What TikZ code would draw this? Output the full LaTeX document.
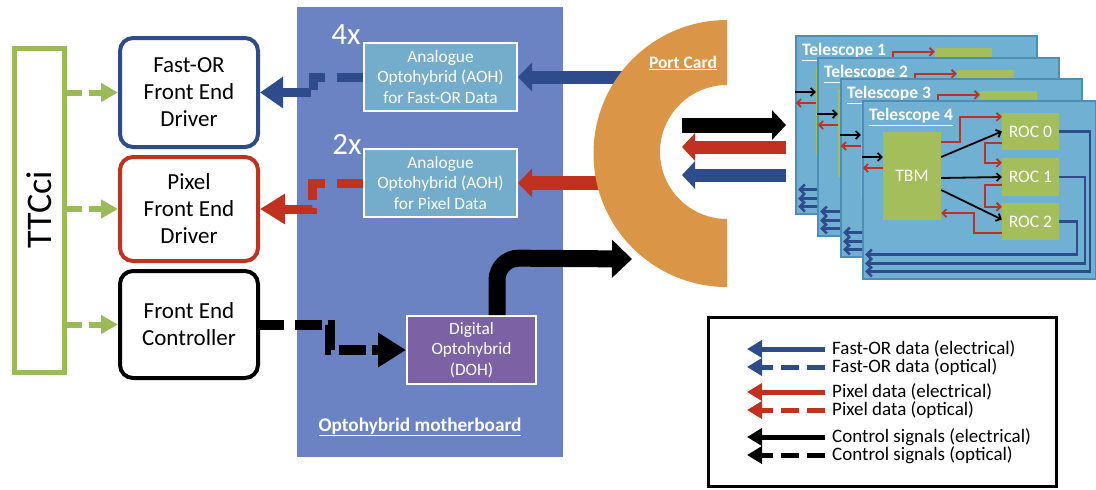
\documentclass[tikz,border=0pt]{standalone}
\usepackage{fontspec}
\setmainfont{Carlito}
\usetikzlibrary{arrows.meta,calc}
\definecolor{tgreen}{HTML}{9BBB59}
\definecolor{dblue}{HTML}{2E4B8C}
\definecolor{dred}{HTML}{C0311F}
\definecolor{mboard}{HTML}{6B83C3}
\definecolor{aohc}{HTML}{73ADCB}
\definecolor{dohc}{HTML}{7D61A5}
\definecolor{portc}{HTML}{DA9546}
\definecolor{telc}{HTML}{70B0D2}
\definecolor{telb}{HTML}{4E8DB5}
\definecolor{rocg}{HTML}{A4BE5C}
\tikzset{
  fedbox/.style={rounded corners=13pt, line width=4pt, fill=white, minimum width=138pt, align=center, font=\fontsize{23}{27}\selectfont, inner sep=0},
  garrow/.style={draw=tgreen, line width=6pt, dash pattern=on 15pt off 7pt, -{Triangle[length=17pt,width=18pt]}},
  ohbox/.style={draw=white, line width=2pt, text=white, align=center, inner sep=0, font=\fontsize{17.3}{20.5}\selectfont},
  wlabel/.style={text=white, inner sep=0, font=\bfseries\fontsize{17.5}{19}\selectfont},
  panel/.style={fill=telc, draw=telb, line width=1.5pt, minimum height=178pt, inner sep=0, anchor=north west},
  chip/.style={fill=rocg, inner sep=0, text=white, font=\fontsize{17.6}{20}\selectfont},
  tred/.style={draw=dred, line width=1.8pt, -{Straight Barb[length=4pt,width=8pt]}},
  tblk/.style={draw=black, line width=1.8pt, -{Straight Barb[length=4pt,width=8pt]}},
  tblu/.style={draw=dblue, line width=2.5pt, -{Straight Barb[length=5pt,width=10pt]}},
  legtext/.style={anchor=west, inner sep=0, font=\fontsize{19}{20}\selectfont},
  legarrow/.style={line width=5pt, -{Triangle[length=15pt,width=17pt]}},
  legdash/.style={line width=5pt, dash pattern=on 18pt off 8pt, -{Triangle[length=15pt,width=17pt]}}
}
\newcommand{\telpanel}[4]{%
\begin{scope}[shift={(#1,#2)}]
\node[panel, minimum width=#4pt] (P#3) at (862,100) {};
\node[wlabel, anchor=west] (L#3) at (869,117) {\underline{Telescope #3}};
\node[chip, minimum width=58pt, minimum height=88pt] (T#3) at (912,176) {\ifnum#3=4 TBM\fi};
\node[chip, minimum width=57pt, minimum height=37pt] (roA#3) at (1030.5,131.5) {\ifnum#3=4 ROC 0\fi};
\node[chip, minimum width=57pt, minimum height=38pt] (roB#3) at (1030.5,177) {\ifnum#3=4 ROC 1\fi};
\node[chip, minimum width=57pt, minimum height=37pt] (roC#3) at (1030.5,221.5) {\ifnum#3=4 ROC 2\fi};
\draw[tred] ([yshift=-10pt]T#3.north east) -- ++(19,0) |- ([yshift=-4pt]roA#3.north west);
\draw[tred] ([yshift=7pt]roA#3.south west) -- ++(-17,0) |- ([yshift=-5pt]roB#3.north west);
\draw[tred] ([yshift=11pt]roB#3.south west) -- ++(-17,0) |- ([yshift=-4pt]roC#3.north west);
\draw[tred] ([yshift=7pt]roC#3.south west) -- ++(-28,0) |- ([yshift=7pt]T#3.south east);
\draw[tblk] ([yshift=19pt]T#3.east) -- (roA#3.west);
\draw[tblk] ([yshift=-2pt]T#3.east) -- (roB#3.west);
\draw[tblk] ([yshift=-14pt]T#3.east) -- ([yshift=2pt]roC#3.west);
\draw[tblk] ([xshift=-21pt,yshift=19pt]T#3.west) -- ([yshift=19pt]T#3.west);
\draw[tred] ([yshift=8pt]T#3.west) -- ([xshift=-20pt,yshift=8pt]T#3.west);
\draw[tblu] (roA#3.east) -- ++(31,0) |- ([xshift=3pt,yshift=8pt]P#3.south west);
\draw[tblu] (roB#3.east) -- ++(26,0) |- ([xshift=3pt,yshift=16pt]P#3.south west);
\draw[tblu] (roC#3.east) -- ++(18,0) |- ([xshift=3pt,yshift=25pt]P#3.south west);
\end{scope}}
\begin{document}
\begin{tikzpicture}[x=1pt,y=-1pt]
\useasboundingbox (0,0) rectangle (1096,490);
\fill[white] (0,0) rectangle (1096,490);
% TTCci
\node[draw=tgreen, line width=5pt, minimum width=50pt, minimum height=324pt, inner sep=0] (ttc) at (39,210) {\rotatebox{90}{\fontsize{36}{40}\selectfont TTCci}};
% FEDs
\node[fedbox, draw=dblue, minimum height=109pt] (fofed) at (189,92.5) {Fast-OR\\Front End\\Driver};
\node[fedbox, draw=dred, minimum height=104pt] (pxfed) at (189,209) {Pixel\\Front End\\Driver};
\node[fedbox, draw=black, minimum height=107pt] (fec) at (189,324.5) {Front End\\Controller};
\draw[garrow] (ttc.east |- fofed.west) -- (fofed.west);
\draw[garrow] (ttc.east |- pxfed.west) -- (pxfed.west);
\draw[garrow] (ttc.east |- fec.west) -- (fec.west);
% motherboard
\node[fill=mboard, minimum width=266pt, minimum height=450pt, inner sep=0] (mb) at (430,232) {};
\node[ohbox, fill=aohc, minimum width=153pt, minimum height=68pt] (aoh1) at (440.5,77) {Analogue\\Optohybrid (AOH)\\for Fast-OR Data};
\node[ohbox, fill=aohc, minimum width=153pt, minimum height=68pt] (aoh2) at (440.5,183) {Analogue\\Optohybrid (AOH)\\for Pixel Data};
\node[ohbox, fill=dohc, minimum width=129pt, minimum height=68pt] (doh) at (471.5,350) {Digital\\Optohybrid\\(DOH)};
\node[text=white, inner sep=0, font=\fontsize{31}{31}\selectfont] (n4x) at (346,35) {4x};
\node[text=white, inner sep=0, font=\fontsize{31}{31}\selectfont] (n2x) at (347,144) {2x};
\node[wlabel, font=\bfseries\fontsize{19.3}{21}\selectfont] (mblabel) at (420,427) {\underline{Optohybrid motherboard}};
% dashed optical links
\draw[dblue, line width=9pt, dash pattern=on 26pt off 12pt on 25pt off 5pt on 100pt off 1pt, -{Triangle[length=23pt,width=30pt]}] (aoh1.west) -- ++(-50,0) |- (fofed.east);
\draw[dred, line width=9pt, dash pattern=on 26pt off 12pt on 30pt off 8pt on 100pt off 1pt, -{Triangle[length=25pt,width=29pt]}] (aoh2.west) -- ++(-51,0) |- (pxfed.east);
\draw[black, line width=10pt, dash pattern=on 24pt off 11pt on 27pt off 6pt on 28pt off 8pt on 27pt off 6pt, -{Triangle[length=28pt,width=33pt]}] (fec.east) -- ++(70,0) |- (doh.west);
% electrical from port card
\coordinate (pcb) at (640,77);
\coordinate (pcr) at (620,183);
\coordinate (pcin) at (632,259);
\draw[dblue, line width=13pt, -{Triangle[length=14pt,width=28pt]}] (pcb) -- (aoh1.east);
\draw[dred, line width=14pt, -{Triangle[length=14pt,width=28pt]}] (pcr) -- (aoh2.east);
\draw[black, line width=17pt, rounded corners=22pt, -{Triangle[length=20pt,width=37pt]}] ([xshift=25.5pt]doh.north) -- ++(0,-57) -- (pcin);
% port card
\fill[portc] (727,20) arc[start angle=90,end angle=270,radius=133.5pt] -- (727,219) arc[start angle=270,end angle=90,radius=67pt] -- cycle;
\node[wlabel] (pclabel) at (683,63) {\underline{Port Card}};
\coordinate (ka) at (682,125);
\coordinate (kb) at (786,125);
\coordinate (ra) at (786,147);
\coordinate (rb) at (682,147);
\coordinate (ba) at (786,175);
\coordinate (bb) at (682,175);
\draw[black, line width=15pt, -{Triangle[length=14pt,width=29pt]}] (ka) -- (kb);
\draw[dred, line width=13pt, -{Triangle[length=13pt,width=27pt]}] (ra) -- (rb);
\draw[dblue, line width=13pt, -{Triangle[length=13pt,width=27pt]}] (ba) -- (bb);
% telescopes
\telpanel{-67}{-65}{1}{241}
\telpanel{-45}{-43}{2}{241}
\telpanel{-22}{-22}{3}{241}
\telpanel{0}{0}{4}{233}
% legend
\node[draw=black, line width=3pt, fill=white, minimum width=348pt, minimum height=169pt, inner sep=0] (leg) at (882.5,402) {};
\node[legtext] (l1) at (832,349) {Fast-OR data (electrical)};
\node[legtext] (l2) at (832,367) {Fast-OR data (optical)};
\node[legtext] (l3) at (832,392) {Pixel data (electrical)};
\node[legtext] (l4) at (832,410) {Pixel data (optical)};
\node[legtext] (l5) at (832,437) {Control signals (electrical)};
\node[legtext] (l6) at (832,455) {Control signals (optical)};
\draw[legarrow, dblue] ([xshift=-7pt]l1.west) -- ([xshift=-85pt]l1.west);
\draw[legdash, dblue] ([xshift=-7pt]l2.west) -- ([xshift=-85pt]l2.west);
\draw[legarrow, dred] ([xshift=-7pt]l3.west) -- ([xshift=-85pt]l3.west);
\draw[legdash, dred] ([xshift=-7pt]l4.west) -- ([xshift=-85pt]l4.west);
\draw[legarrow, black] ([xshift=-7pt]l5.west) -- ([xshift=-85pt]l5.west);
\draw[legdash, black] ([xshift=-7pt]l6.west) -- ([xshift=-85pt]l6.west);
\end{tikzpicture}
\end{document}
